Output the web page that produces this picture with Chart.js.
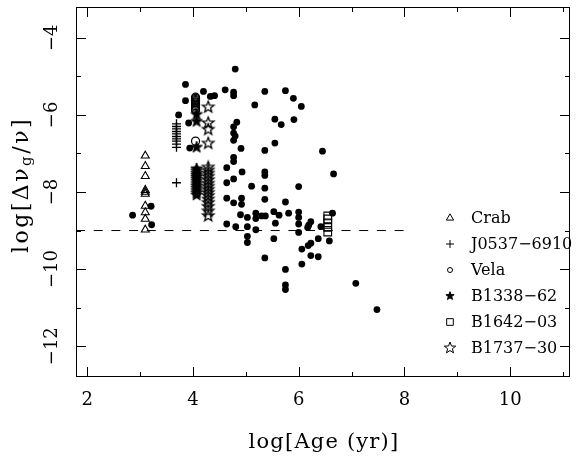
<!DOCTYPE html>
<html>
<head>
<meta charset="utf-8">
<script src="https://cdn.jsdelivr.net/npm/chart.js@4.4.1/dist/chart.umd.min.js"></script>
<style>
  html, body { margin: 0; padding: 0; background: #fff; }
  #wrap { width: 577px; height: 462px; }
</style>
</head>
<body>
<div id="wrap"><canvas id="glitchChart" width="577" height="462"></canvas></div>
<script>
// glitch size log(dnu_g/nu) against characteristic age log(age/yr)
const fieldPulsars = [
  [2.86, -8.60], [3.21, -8.37], [3.22, -8.85],
  [3.73, -6.00], [3.86, -5.21], [3.86, -5.63], [3.92, -6.21], [3.94, -6.86],
  [4.20, -5.39], [4.33, -5.52], [4.41, -5.50], [4.61, -5.35],
  [4.80, -4.81], [4.77, -5.41], [4.77, -5.50], [4.83, -6.19], [4.77, -6.31], [4.77, -6.47],
  [4.80, -6.55], [4.77, -6.66], [4.91, -6.87], [4.77, -7.10], [4.77, -7.21],
  [4.64, -7.37], [4.93, -7.48], [5.36, -7.48], [5.36, -7.57], [4.64, -7.76], [4.77, -7.66],
  [5.11, -7.85], [5.36, -7.90], [6.00, -7.86],
  [4.64, -8.16], [4.77, -8.28], [4.92, -8.16], [4.92, -8.32], [5.36, -8.19], [5.75, -8.26],
  [4.90, -8.59], [5.03, -8.66], [5.19, -8.55], [5.19, -8.69], [5.30, -8.62], [5.37, -8.62],
  [5.53, -8.51], [5.63, -8.60], [5.81, -8.55], [6.00, -8.52], [6.00, -8.66],
  [4.64, -8.83], [4.81, -8.90], [5.03, -8.90], [5.19, -8.98], [5.56, -8.81], [6.00, -8.83],
  [6.00, -9.05], [6.19, -8.86], [6.23, -8.77], [6.17, -8.92],
  [5.03, -9.15], [5.03, -9.31], [5.53, -9.21], [6.06, -9.48], [6.18, -9.39], [6.23, -9.33],
  [6.37, -9.21], [6.23, -9.65], [6.37, -9.68], [5.36, -9.71], [6.06, -9.87],
  [5.75, -10.01], [5.75, -10.41], [5.75, -10.53],
  [6.42, -8.90], [6.64, -8.55], [6.58, -9.27], [6.45, -6.94], [6.66, -7.53],
  [7.08, -10.37], [7.48, -11.05],
  [5.17, -5.74], [5.36, -5.39], [5.75, -5.37], [5.90, -5.57], [6.05, -5.78],
  [5.55, -6.11], [5.67, -6.25], [5.91, -6.12], [5.55, -6.73], [5.36, -6.92]
];

const crabAge = 3.10;
const crabGlitches = [-7.06, -7.33, -7.59, -7.95, -8.00, -8.05, -8.36, -8.53, -8.70, -8.98];

const j0537Age = 3.69;
const j0537Glitches = [-6.23, -6.30, -6.36, -6.43, -6.49, -6.56, -6.62, -6.68, -6.76, -6.84, -7.76];

const velaAge = 4.05;
const velaGlitches = [-5.54, -5.57, -5.60, -5.63, -5.66, -5.69, -5.72, -5.76, -5.80, -5.84, -5.88, -6.68];

const b1338Age = 4.07;
const b1338Glitches = [-5.99, -6.17, -6.84, -7.40, -7.45, -7.51, -7.56, -7.61, -7.66, -7.72,
  -7.78, -7.84, -7.90, -7.96, -8.02, -8.08];

const b1642Age = 6.55;
const b1642Glitches = [-8.62, -8.70, -8.80, -8.92, -9.04];

const b1737Age = 4.29;
const b1737Glitches = [-5.80, -6.21, -6.38, -6.74, -7.36, -7.44, -7.52, -7.60, -7.69, -7.78,
  -7.86, -7.94, -8.02, -8.10, -8.19, -8.28, -8.38, -8.50, -8.62];

const cutoffLevel = -9;
const cutoffEnd = 8;

const xTicks = [2, 4, 6, 8, 10];
const xMinor = [3, 5, 7, 9, 11];
const yTicks = [-4, -6, -8, -10, -12];
const yMinor = [-5, -7, -9, -11];

const SERIF = "'DejaVu Serif', serif";

// five-pointed star drawn once, used as a point image
function starMarker(r, filled, lw) {
  const s = 2 * Math.ceil(r + 2);
  const c = document.createElement('canvas');
  c.width = s; c.height = s;
  const g = c.getContext('2d');
  g.beginPath();
  for (let i = 0; i < 10; i++) {
    const rr = i % 2 ? r * 0.42 : r;
    const a = -Math.PI / 2 + i * Math.PI / 5;
    const px = s / 2 + rr * Math.cos(a), py = s / 2 + rr * Math.sin(a);
    if (i === 0) g.moveTo(px, py); else g.lineTo(px, py);
  }
  g.closePath();
  if (filled) { g.fillStyle = '#000'; g.fill(); }
  g.lineWidth = lw;
  g.strokeStyle = '#000';
  g.stroke();
  return c;
}

const filledStar = starMarker(6, true, 1);
const openStar = starMarker(6, false, 1.3);
const filledStarSmall = starMarker(4.3, true, 1);
const openStarSmall = starMarker(6, false, 1);

const stack = (age, vals) => vals.map(v => ({ x: age, y: v }));
const NONE = 'rgba(0,0,0,0)';

const legendRows = [
  { text: 'Crab', style: { pointStyle: 'triangle', radius: 4.2, borderWidth: 1 }, fill: NONE },
  { text: 'J0537\u22126910', style: { pointStyle: 'cross', radius: 4, borderWidth: 1 }, fill: NONE },
  { text: 'Vela', style: { pointStyle: 'circle', radius: 2.5, borderWidth: 1 }, fill: NONE },
  { text: 'B1338\u221262', style: { pointStyle: filledStarSmall, radius: 4 }, fill: '#000' },
  { text: 'B1642\u221203', style: { pointStyle: 'rect', radius: 4.7, borderWidth: 1 }, fill: NONE },
  { text: 'B1737\u221230', style: { pointStyle: openStarSmall, radius: 6 }, fill: NONE }
];

// frame, inward ticks, tick labels, axis titles and the key
const axesPlugin = {
  id: 'axesPlugin',
  afterDraw(chart) {
    const { ctx, chartArea: a, scales: { x, y } } = chart;
    ctx.save();
    ctx.strokeStyle = '#000';
    ctx.fillStyle = '#000';
    ctx.lineWidth = 1;
    ctx.strokeRect(a.left + 0.5, a.top + 0.5, a.right - a.left - 1, a.bottom - a.top - 1);

    ctx.beginPath();
    const xt = (vals, len) => vals.forEach(v => {
      const px = Math.round(x.getPixelForValue(v)) + 0.5;
      ctx.moveTo(px, a.bottom); ctx.lineTo(px, a.bottom - len);
      ctx.moveTo(px, a.top); ctx.lineTo(px, a.top + len);
    });
    const yt = (vals, len) => vals.forEach(v => {
      const py = Math.round(y.getPixelForValue(v)) + 0.5;
      ctx.moveTo(a.left, py); ctx.lineTo(a.left + len, py);
      ctx.moveTo(a.right, py); ctx.lineTo(a.right - len, py);
    });
    xt(xTicks, 10); xt(xMinor, 5);
    yt(yTicks, 10); yt(yMinor, 5);
    ctx.stroke();

    // x tick labels
    ctx.font = '18px ' + SERIF;
    ctx.textAlign = 'center';
    ctx.textBaseline = 'middle';
    xTicks.forEach(v => ctx.fillText(String(v), x.getPixelForValue(v), 400));

    // y tick labels, rotated
    yTicks.forEach(v => {
      ctx.save();
      ctx.translate(52, y.getPixelForValue(v));
      ctx.rotate(-Math.PI / 2);
      ctx.fillText(String(v).replace('-', '\u2212'), 0, 0);
      ctx.restore();
    });

    // x title
    ctx.font = '21px ' + SERIF;
    ctx.letterSpacing = '1.2px';
    ctx.fillText('log[Age (yr)]', (a.left + a.right) / 2 + 1, 443);

    // y title with subscript g
    ctx.save();
    ctx.translate(22, 185);
    ctx.rotate(-Math.PI / 2);
    ctx.textAlign = 'left';
    ctx.letterSpacing = '2.5px';
    const big = '22px ' + SERIF, small = '15px ' + SERIF;
    const parts = [['log[\u0394\u03bd', big, 0], ['g', small, 5], ['/\u03bd]', big, 0]];
    let total = 0;
    parts.forEach(p => { ctx.font = p[1]; total += ctx.measureText(p[0]).width; });
    let cx = -total / 2;
    parts.forEach(p => {
      ctx.font = p[1];
      ctx.fillText(p[0], cx, p[2]);
      cx += ctx.measureText(p[0]).width;
    });
    ctx.restore();
    ctx.letterSpacing = '0px';

    // key
    ctx.font = '16px ' + SERIF;
    ctx.textAlign = 'left';
    legendRows.forEach((row, i) => {
      const ry = 218 + i * 26;
      ctx.fillStyle = row.fill;
      Chart.helpers.drawPoint(ctx, Object.assign({ rotation: 0 }, row.style), 450, ry);
      ctx.fillStyle = '#000';
      ctx.fillText(row.text, 471, ry + 1);
    });
    ctx.restore();
  }
};

const openPoint = (style, r) => ({
  pointStyle: style, pointRadius: r, backgroundColor: NONE,
  borderColor: '#000', borderWidth: 1.1
});

new Chart(document.getElementById('glitchChart'), {
  type: 'scatter',
  data: {
    datasets: [
      Object.assign({ label: 'Crab', data: stack(crabAge, crabGlitches) }, openPoint('triangle', 4.6)),
      Object.assign({ label: 'J0537-6910', data: stack(j0537Age, j0537Glitches) }, openPoint('cross', 4.5), { borderWidth: 1.3 }),
      Object.assign({ label: 'Vela', data: stack(velaAge, velaGlitches) }, openPoint('circle', 4), { borderWidth: 1.2 }),
      { label: 'B1338-62', data: stack(b1338Age, b1338Glitches), pointStyle: filledStar, pointRadius: 6 },
      Object.assign({ label: 'B1642-03', data: stack(b1642Age, b1642Glitches) }, openPoint('rect', 5.4)),
      { label: 'B1737-30', data: stack(b1737Age, b1737Glitches), pointStyle: openStar, pointRadius: 6 },
      {
        label: 'pulsars',
        data: fieldPulsars.map(p => ({ x: p[0], y: p[1] })),
        pointStyle: 'circle', pointRadius: 3.4, backgroundColor: '#000', borderWidth: 0
      },
      {
        type: 'line', label: 'cutoff',
        data: [{ x: 1.79, y: cutoffLevel }, { x: cutoffEnd, y: cutoffLevel }],
        borderColor: '#000', borderWidth: 1, borderDash: [9, 8.7], pointRadius: 0, fill: false
      }
    ]
  },
  options: {
    responsive: false,
    animation: false,
    events: [],
    layout: { padding: { left: 76, top: 5, right: 3, bottom: 85 } },
    scales: {
      x: { type: 'linear', min: 1.79, max: 11.13, display: false },
      y: { type: 'linear', min: -12.8, max: -3.2, display: false }
    },
    plugins: { legend: { display: false }, tooltip: { enabled: false } }
  },
  plugins: [axesPlugin]
});
</script>
</body>
</html>
